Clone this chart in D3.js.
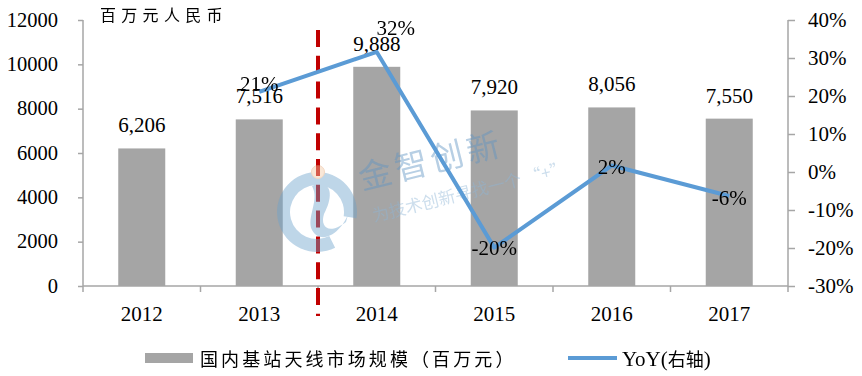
<!DOCTYPE html>
<html>
<head>
<meta charset="utf-8">
<script src="https://cdn.jsdelivr.net/npm/d3@7/dist/d3.min.js"></script>
<style>
  html, body { margin: 0; padding: 0; background: #fff; }
  svg { display: block; }
  .serif { font-family: "Liberation Serif", "Times New Roman", "DejaVu Serif", serif; }
  .cjk { font-family: "Noto Sans CJK SC", sans-serif; }
</style>
</head>
<body>
<svg id="chart" width="862" height="376"></svg>
<script>
// ---- data ----
const years = ["2012", "2013", "2014", "2015", "2016", "2017"];
const marketSize = [6206, 7516, 9888, 7920, 8056, 7550];
const marketLabels = ["6,206", "7,516", "9,888", "7,920", "8,056", "7,550"];
const yoy = [null, 21.1, 31.6, -19.9, 1.7, -6.3];
const yoyLabels = [null, "21%", "32%", "-20%", "2%", "-6%"];
const leftTicks = [0, 2000, 4000, 6000, 8000, 10000, 12000];
const rightTicks = [-30, -20, -10, 0, 10, 20, 30, 40];
const unitLabel = "百万元人民币";
const legendBar = "国内基站天线市场规模（百万元）";
const legendLine = ["YoY(", "右轴", ")"];

// ---- layout ----
const svg = d3.select("#chart");
const L = 83, R = 788, T = 20, B = 286;
const axisColor = "#A6A6A6";
const barColor = "#A5A5A5";
const lineColor = "#5B9BD5";

const x = d3.scaleBand().domain(years).range([L, R]).paddingInner(0.6).paddingOuter(0.3);
const yL = d3.scaleLinear().domain([0, 12000]).range([B, T]);
const yR = d3.scaleLinear().domain([-30, 40]).range([B, T]);
const cx = d => x(d) + x.bandwidth() / 2;

function serifText(sel, size) {
  sel.attr("class", "serif").attr("font-family", null).style("font-size", size + "px").attr("fill", "#000");
}

// bars
svg.append("g").selectAll("rect").data(years).join("rect")
  .attr("x", d => x(d)).attr("width", x.bandwidth())
  .attr("y", (d, i) => yL(marketSize[i]))
  .attr("height", (d, i) => yL(0) - yL(marketSize[i]))
  .attr("fill", barColor);

// left axis
const gL = svg.append("g").attr("transform", `translate(${L},0)`)
  .call(d3.axisLeft(yL).tickValues(leftTicks).tickSize(5).tickPadding(20).tickFormat(d3.format("d")));
gL.attr("font-family", null);
gL.select(".domain").attr("stroke", axisColor).attr("stroke-width", 1.5).attr("d", `M0,${T}V${B}`);
gL.selectAll(".tick line").attr("stroke", axisColor).attr("stroke-width", 1.5);
gL.selectAll(".tick text").call(serifText, 20.5).attr("dy", "0.3em");

// right axis
const gR = svg.append("g").attr("transform", `translate(${R},0)`)
  .call(d3.axisRight(yR).tickValues(rightTicks).tickSize(7).tickPadding(13).tickFormat(d => d + "%"));
gR.attr("font-family", null);
gR.select(".domain").attr("stroke", axisColor).attr("stroke-width", 1.5).attr("d", `M0,${T}V${B}`);
gR.selectAll(".tick line").attr("stroke", axisColor).attr("stroke-width", 1.5);
gR.selectAll(".tick text").call(serifText, 21).attr("dy", "0.33em");

// bottom axis
const gB = svg.append("g").attr("transform", `translate(0,${B})`)
  .call(d3.axisBottom(x).tickSize(0).tickPadding(22));
gB.attr("font-family", null);
gB.select(".domain").attr("stroke", axisColor).attr("stroke-width", 1.5).attr("d", `M${L},0H${R}`);
gB.selectAll(".tick text").call(serifText, 21).attr("dy", "0.62em");
const step = x.step();
const bounds = years.map(d => x(d) - step * x.paddingInner() / 2).concat([R]);
gB.selectAll("line.sep").data(bounds).join("line").attr("class", "sep")
  .attr("x1", d => d).attr("x2", d => d).attr("y1", 0).attr("y2", 6)
  .attr("stroke", axisColor).attr("stroke-width", 1.5);

// bar labels
svg.append("g").selectAll("text").data(years).join("text")
  .attr("x", d => cx(d)).attr("y", (d, i) => yL(marketSize[i]) - 16)
  .attr("text-anchor", "middle").call(serifText, 21)
  .text((d, i) => marketLabels[i]);

// dashed separator between 2013 and 2014
const sepX = x("2014") - step * x.paddingInner() / 2;
svg.append("line").attr("x1", sepX).attr("x2", sepX).attr("y1", 30).attr("y2", 316)
  .attr("stroke", "#C00000").attr("stroke-width", 4).attr("stroke-dasharray", "17,8.8");

// watermark
const wm = svg.append("g").attr("opacity", 0.45);
const arc = d3.arc().innerRadius(27).outerRadius(40).startAngle(-Math.PI * 1.15).endAngle(Math.PI * 0.55);
wm.append("path").attr("d", arc()).attr("transform", `translate(${sepX - 1},212)`).attr("fill", "#6fa3cc");
wm.append("path").attr("d", `M${sepX - 6},186 C${sepX + 14},178 ${sepX + 16},196 ${sepX + 6},214 C${sepX + 2},226 ${sepX + 10},236 ${sepX + 28},222 L${sepX + 34},200 C${sepX + 30},230 ${sepX + 4},248 ${sepX - 6},230 C${sepX - 12},218 ${sepX + 2},200 ${sepX - 6},186 Z`)
  .attr("fill", "#6fa3cc");
wm.append("circle").attr("cx", sepX).attr("cy", 172).attr("r", 6.5).attr("fill", "#f2c9a6").attr("stroke", "#e3a676");
wm.append("text").attr("class", "cjk").attr("transform", "translate(362,190) rotate(-14)")
  .style("font-size", "33px").attr("letter-spacing", 4).attr("fill", "#5f93c2").text("金智创新");
wm.append("text").attr("class", "cjk").attr("transform", "translate(374,222) rotate(-14)")
  .style("font-size", "17px").attr("fill", "#8fb6d6").text("为技术创新寻找一个 “+”");

// YoY line
const pts = years.map((d, i) => ({ d, v: yoy[i], l: yoyLabels[i] })).filter(p => p.v !== null);
svg.append("path").datum(pts)
  .attr("d", d3.line().x(p => cx(p.d)).y(p => yR(p.v)))
  .attr("fill", "none").attr("stroke", lineColor).attr("stroke-width", 4).attr("stroke-linejoin", "round");

// YoY labels (placement offsets dx, dy relative to each point)
const yoyLabelShift = { "2013": [0, -1], "2014": [19, -17], "2015": [0, 7.5], "2016": [0, 8.5], "2017": [0, 9] };
svg.append("g").selectAll("text").data(pts).join("text")
  .attr("x", p => cx(p.d) + yoyLabelShift[p.d][0]).attr("y", p => yR(p.v) + yoyLabelShift[p.d][1])
  .attr("text-anchor", "middle").call(serifText, 21)
  .text(p => p.l);

// unit label
svg.append("text").attr("class", "cjk").attr("x", 100).attr("y", 21).style("font-size", "16px")
  .attr("letter-spacing", 5.3).attr("fill", "#000").text(unitLabel);

// legend
svg.append("rect").attr("x", 145).attr("y", 353).attr("width", 48).attr("height", 10).attr("fill", barColor);
svg.append("text").attr("class", "cjk").attr("x", 200).attr("y", 366).style("font-size", "18px")
  .attr("letter-spacing", 3.1).attr("fill", "#000").text(legendBar);
svg.append("line").attr("x1", 568).attr("x2", 617).attr("y1", 358).attr("y2", 358)
  .attr("stroke", lineColor).attr("stroke-width", 4);
const lt = svg.append("text").attr("x", 622).attr("y", 366).attr("fill", "#000");
lt.append("tspan").attr("class", "serif").style("font-size", "21px").text(legendLine[0]);
lt.append("tspan").attr("class", "cjk").style("font-size", "18px").text(legendLine[1]);
lt.append("tspan").attr("class", "serif").style("font-size", "21px").text(legendLine[2]);
</script>
</body>
</html>
